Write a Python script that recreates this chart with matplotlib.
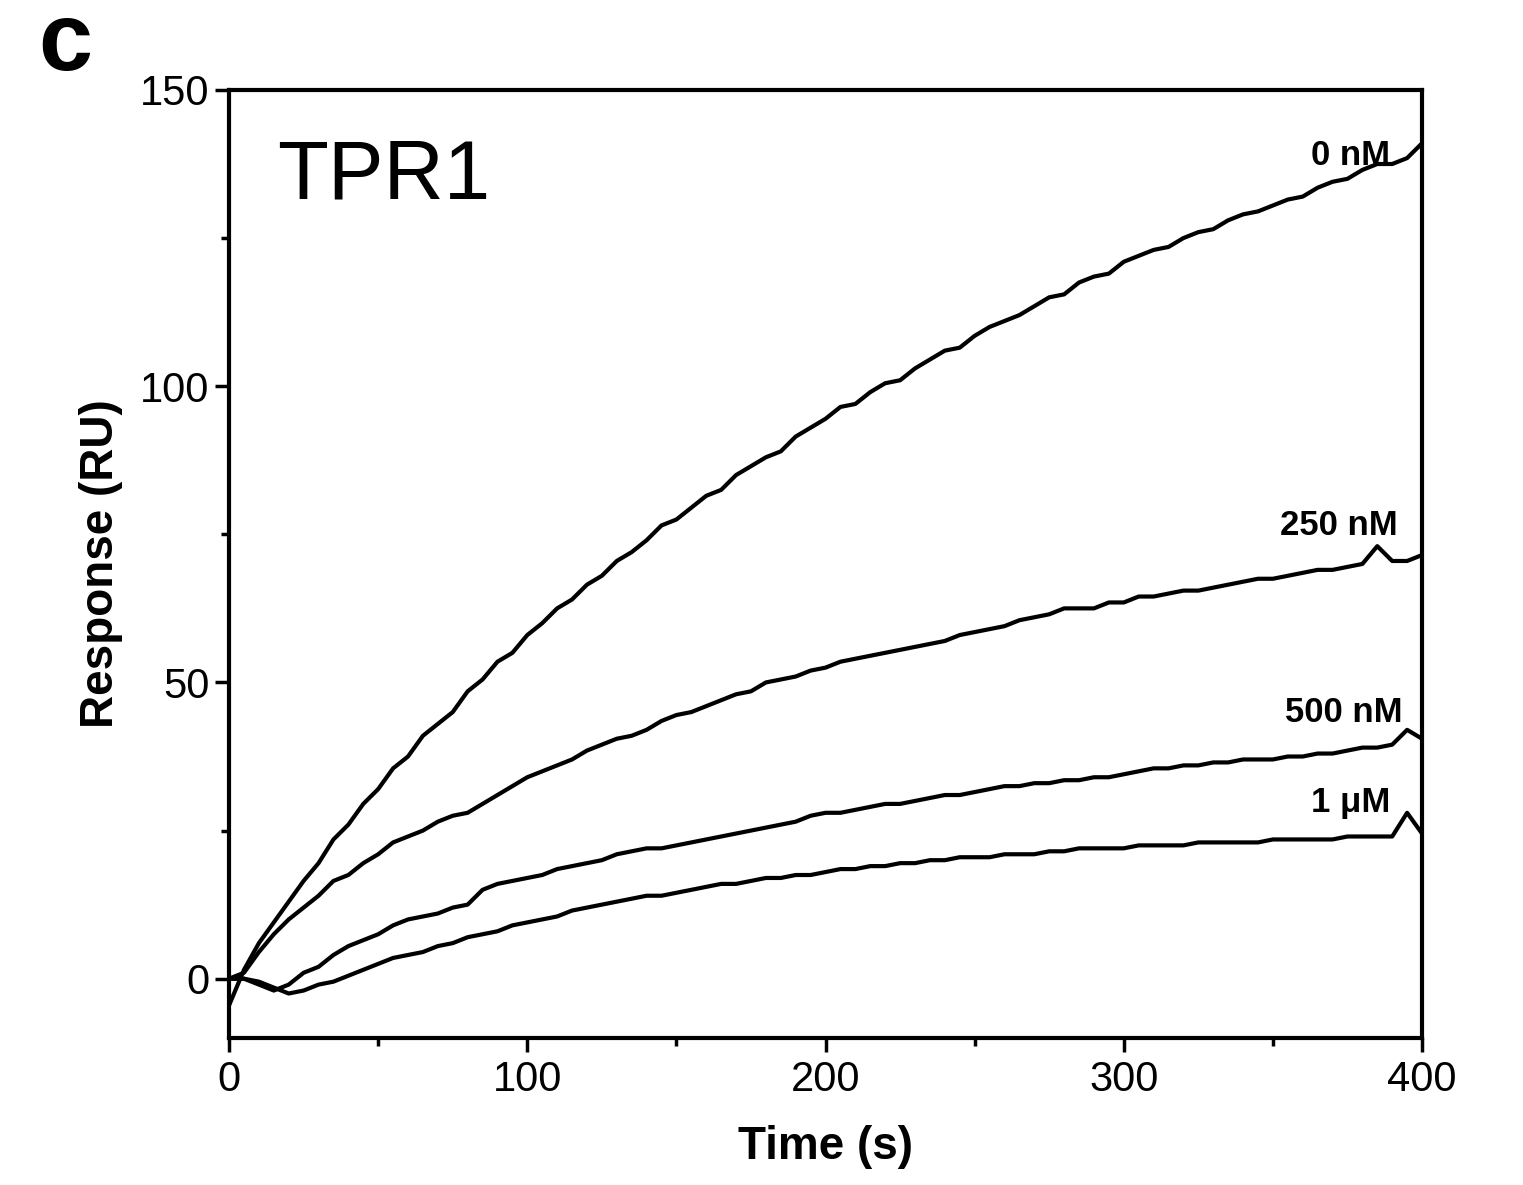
import numpy as np
import matplotlib.pyplot as plt
from matplotlib.ticker import MultipleLocator

plt.rcParams['font.family'] = ['Liberation Sans', 'DejaVu Sans']

# time points (s) and responses (RU)
time = np.arange(0, 401, 5)

resp_0nM = [-4.5, 1.5, 6, 9.5, 13, 16.5, 19.5, 23.5, 26, 29.5,
            32, 35.5, 37.5, 41, 43, 45, 48.5, 50.5, 53.5, 55,
            58, 60, 62.5, 64, 66.5, 68, 70.5, 72, 74, 76.5,
            77.5, 79.5, 81.5, 82.5, 85, 86.5, 88, 89, 91.5, 93,
            94.5, 96.5, 97, 99, 100.5, 101, 103, 104.5, 106, 106.5,
            108.5, 110, 111, 112, 113.5, 115, 115.5, 117.5, 118.5, 119,
            121, 122, 123, 123.5, 125, 126, 126.5, 128, 129, 129.5,
            130.5, 131.5, 132, 133.5, 134.5, 135, 136.5, 137.5, 137.5, 138.5,
            141]
resp_250nM = [0, 1, 4.5, 7.5, 10, 12, 14, 16.5, 17.5, 19.5,
              21, 23, 24, 25, 26.5, 27.5, 28, 29.5, 31, 32.5,
              34, 35, 36, 37, 38.5, 39.5, 40.5, 41, 42, 43.5,
              44.5, 45, 46, 47, 48, 48.5, 50, 50.5, 51, 52,
              52.5, 53.5, 54, 54.5, 55, 55.5, 56, 56.5, 57, 58,
              58.5, 59, 59.5, 60.5, 61, 61.5, 62.5, 62.5, 62.5, 63.5,
              63.5, 64.5, 64.5, 65, 65.5, 65.5, 66, 66.5, 67, 67.5,
              67.5, 68, 68.5, 69, 69, 69.5, 70, 73, 70.5, 70.5,
              71.5]
resp_500nM = [0, 0, -1, -2, -1, 1, 2, 4, 5.5, 6.5,
              7.5, 9, 10, 10.5, 11, 12, 12.5, 15, 16, 16.5,
              17, 17.5, 18.5, 19, 19.5, 20, 21, 21.5, 22, 22,
              22.5, 23, 23.5, 24, 24.5, 25, 25.5, 26, 26.5, 27.5,
              28, 28, 28.5, 29, 29.5, 29.5, 30, 30.5, 31, 31,
              31.5, 32, 32.5, 32.5, 33, 33, 33.5, 33.5, 34, 34,
              34.5, 35, 35.5, 35.5, 36, 36, 36.5, 36.5, 37, 37,
              37, 37.5, 37.5, 38, 38, 38.5, 39, 39, 39.5, 42,
              40.5]
resp_1uM = [0, 0, -0.5, -1.5, -2.5, -2, -1, -0.5, 0.5, 1.5,
            2.5, 3.5, 4, 4.5, 5.5, 6, 7, 7.5, 8, 9,
            9.5, 10, 10.5, 11.5, 12, 12.5, 13, 13.5, 14, 14,
            14.5, 15, 15.5, 16, 16, 16.5, 17, 17, 17.5, 17.5,
            18, 18.5, 18.5, 19, 19, 19.5, 19.5, 20, 20, 20.5,
            20.5, 20.5, 21, 21, 21, 21.5, 21.5, 22, 22, 22,
            22, 22.5, 22.5, 22.5, 22.5, 23, 23, 23, 23, 23,
            23.5, 23.5, 23.5, 23.5, 23.5, 24, 24, 24, 24, 28,
            24.5]

curves = [resp_0nM, resp_250nM, resp_500nM, resp_1uM]
labels = ['0 nM', '250 nM', '500 nM', '1 \u03bcM']
label_pos = [(389.3, 137.3), (392, 74.9), (393.6, 43.4), (389.3, 28.2)]

fig = plt.figure(figsize=(15.23, 11.85), dpi=100)
ax = fig.add_axes([0.1504, 0.1241, 0.7833, 0.8000])

for resp in curves:
    ax.plot(time, resp, color='black', lw=3.0, solid_joinstyle='round')

for lab, (x, y) in zip(labels, label_pos):
    ax.text(x, y, lab, ha='right', va='baseline', fontsize=25, fontweight='bold')

ax.text(0.04, 0.885, 'TPR1', transform=ax.transAxes, fontsize=60, va='baseline')

ax.set_xlim(0, 400)
ax.set_ylim(-10, 150)
ax.set_xticks([0, 100, 200, 300, 400])
ax.set_yticks([0, 50, 100, 150])
ax.xaxis.set_minor_locator(MultipleLocator(50))
ax.yaxis.set_minor_locator(MultipleLocator(25))
ax.tick_params(which='major', length=10, width=2.5, labelsize=30, direction='out')
ax.tick_params(which='minor', length=6, width=2.5, direction='out')
ax.tick_params(axis='x', pad=6)
ax.tick_params(axis='y', pad=4)
for sp in ax.spines.values():
    sp.set_linewidth(3)

ax.set_xlabel('Time (s)', fontsize=33, fontweight='bold', labelpad=18)
ax.set_ylabel('Response (RU)', fontsize=33, fontweight='bold', labelpad=12)

fig.text(0.043, 0.962, 'c', fontsize=70, fontweight='bold', ha='center', va='center')

fig.savefig('out.png', dpi=100)
